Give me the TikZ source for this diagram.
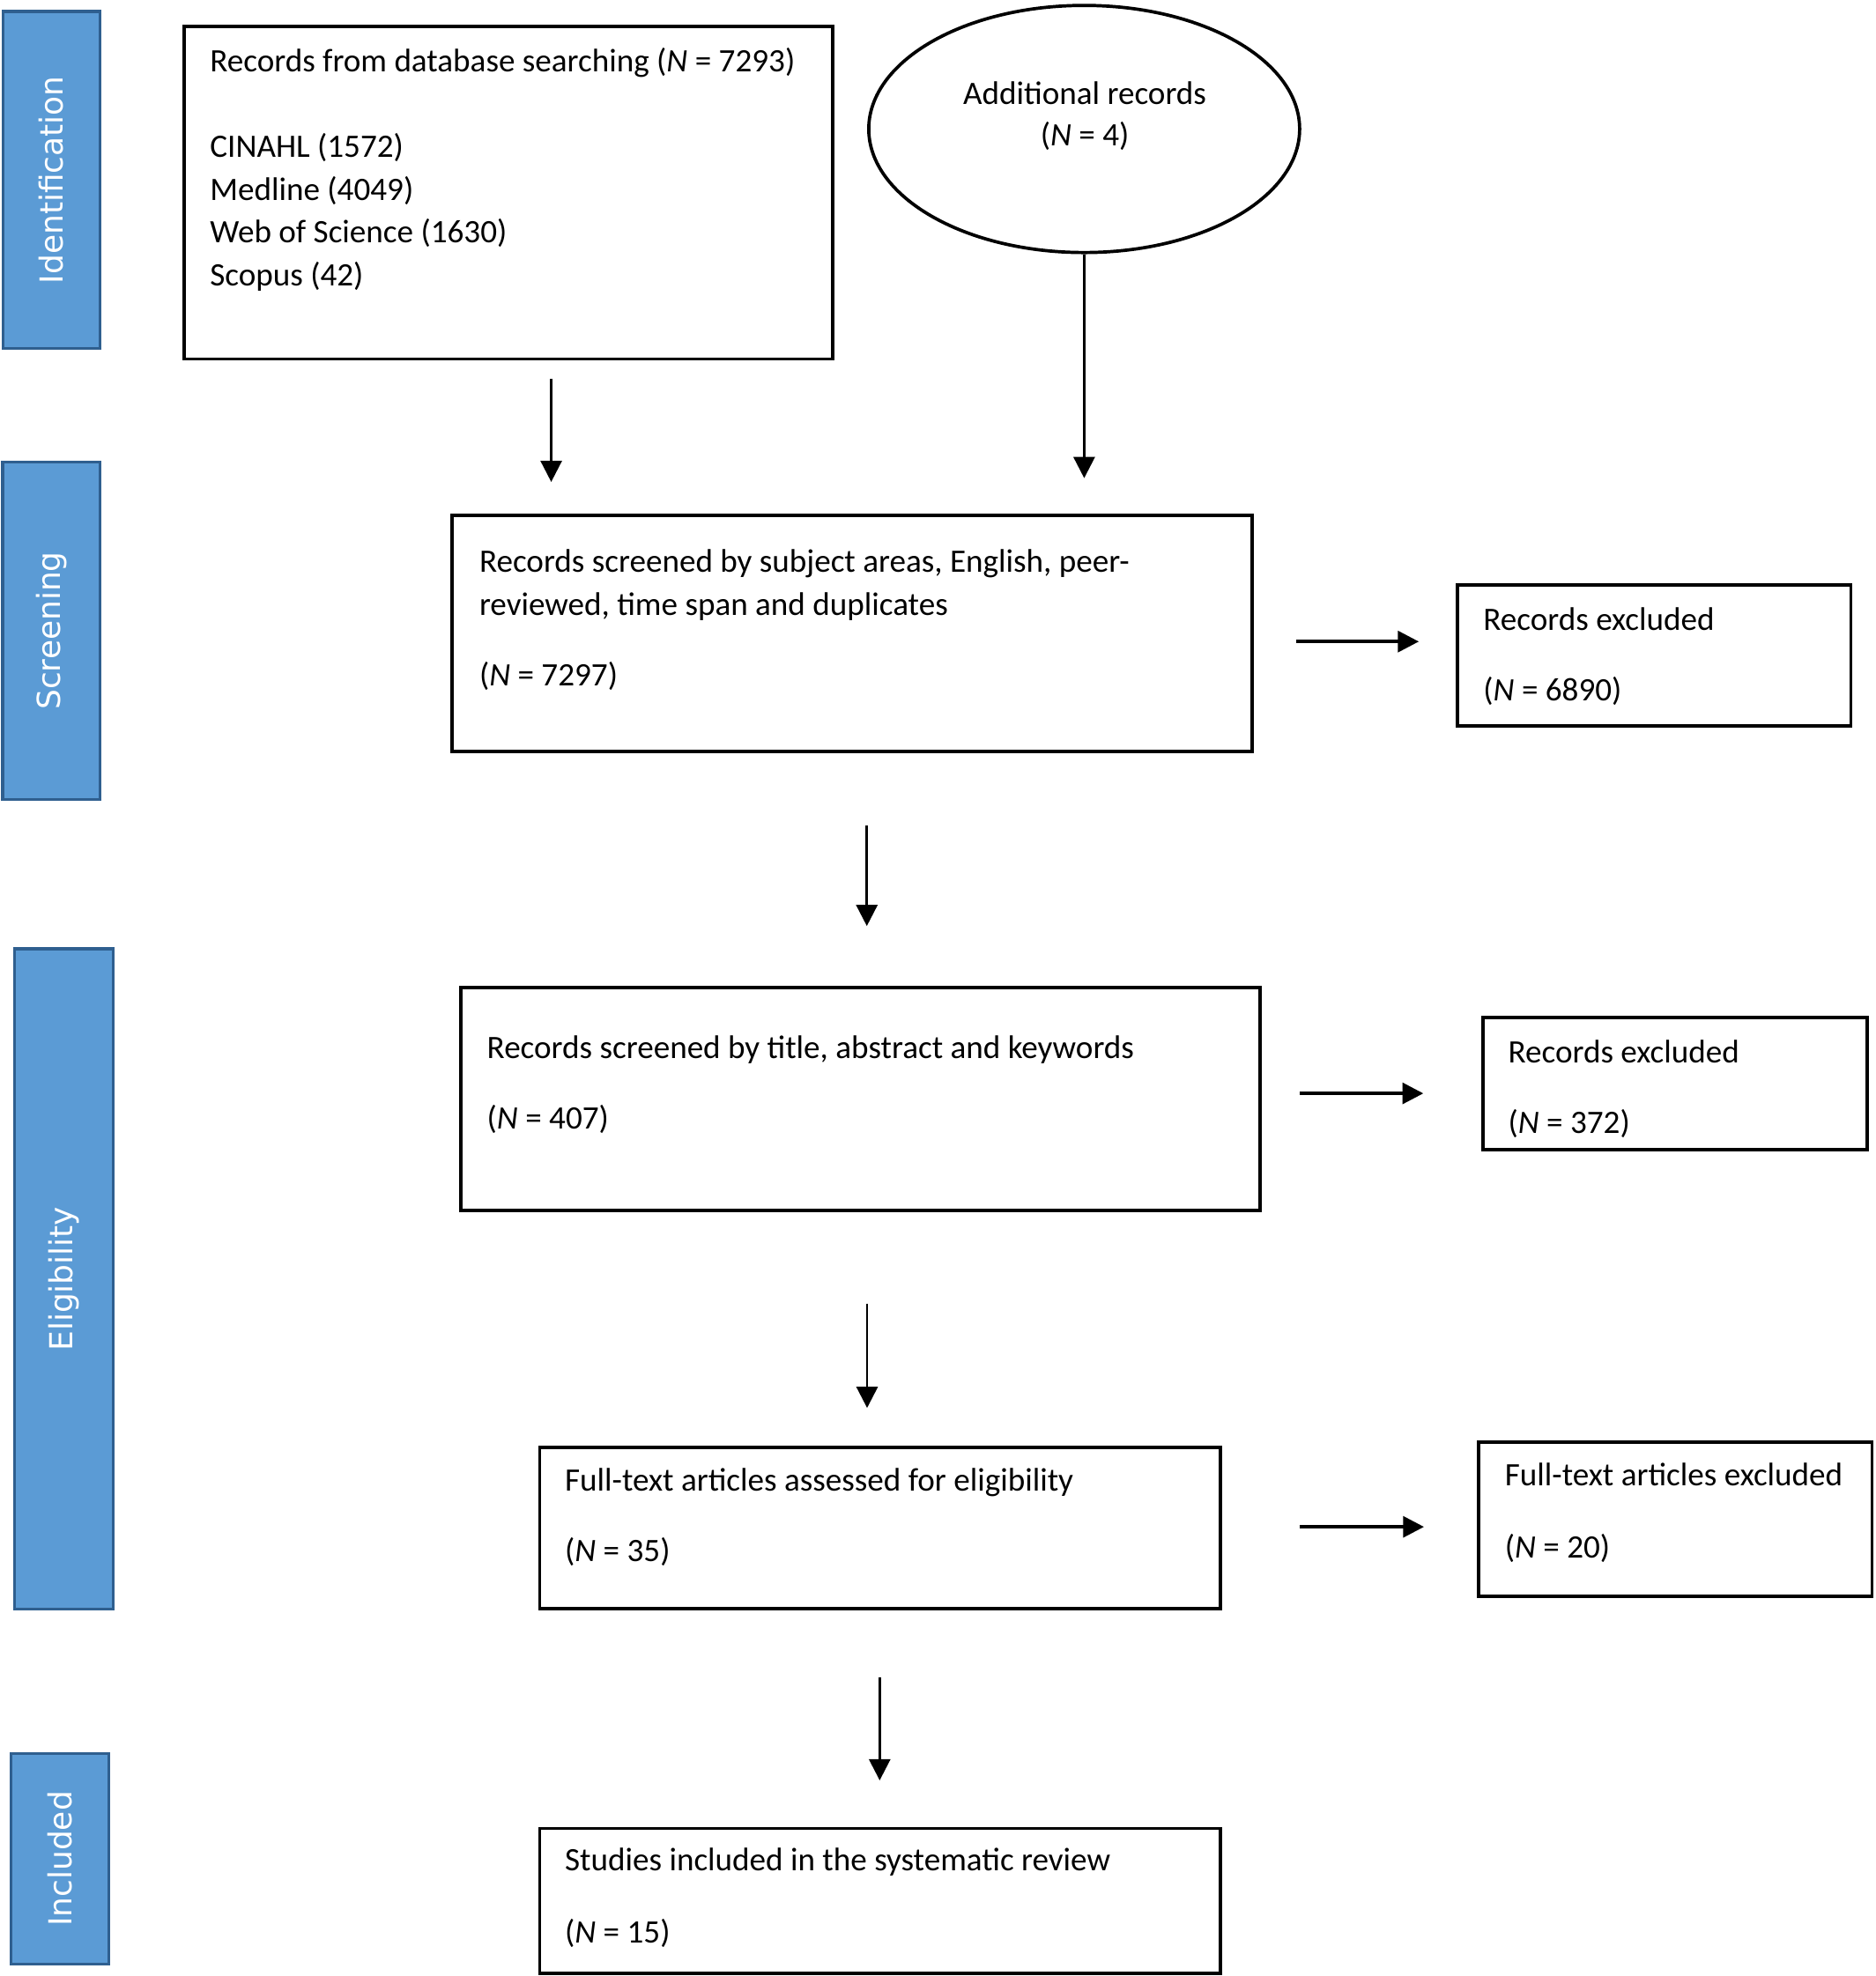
\documentclass[tikz,border=0pt]{standalone}
\usepackage{fontspec}
\setmainfont{Carlito}
\newfontfamily\phasefont{DejaVu Sans}
\usetikzlibrary{arrows.meta,shapes.geometric}
\definecolor{phasefill}{HTML}{5B9BD5}
\definecolor{phaseline}{HTML}{2F5F8F}
\begin{document}
\begin{tikzpicture}[x=0.5pt,y=-0.5pt,
  box/.style={draw=black, line width=1.35pt, inner sep=0pt},
  phase/.style={draw=phaseline, fill=phasefill, line width=1.1pt, rotate=90, inner sep=0pt,
    text=white, font=\phasefont\fontsize{12.6}{15}\selectfont},
  txt/.style={anchor=base west, inner sep=0pt, font=\fontsize{13}{15}\selectfont},
  ctxt/.style={anchor=base, inner sep=0pt, font=\fontsize{13}{15}\selectfont},
  varr/.style={line width=0.95pt, -{Triangle[length=8.4pt,width=8.4pt]}},
  harr/.style={line width=1.35pt, -{Triangle[length=8.3pt,width=8.3pt]}}
]
\useasboundingbox (0,0) rectangle (1490,1570.5);

% phase bars
\node[phase, minimum width=133.9pt, minimum height=38.65pt] (pid) at (40.9,143) {Identification};
\node[phase, minimum width=134.2pt, minimum height=38.75pt] (pscr) at (40.85,501.3) {Screening};
\node[phase, minimum width=262.4pt, minimum height=39.15pt] (pel) at (50.75,1016.5) {Eligibility};
\node[phase, minimum width=83.55pt, minimum height=38.8pt] (pinc) at (47.5,1477.4) {Included};

% boxes
\node[box, minimum width=257.8pt, minimum height=132.1pt] (A) at (403.85,153.2) {};
\node[draw=black, ellipse, line width=1.3pt, inner sep=0pt, minimum width=171.2pt, minimum height=98.2pt] (ell) at (861.5,102.5) {};
\node[box, minimum width=318pt, minimum height=93.8pt] (B) at (677.15,503.55) {};
\node[box, minimum width=156.2pt, minimum height=56pt] (C) at (1314.5,520.65) {};
\node[box, minimum width=317.4pt, minimum height=88.7pt] (D) at (683.75,873.6) {};
\node[box, minimum width=152.7pt, minimum height=52.4pt] (E) at (1331,861.25) {};
\node[box, minimum width=270.4pt, minimum height=64.2pt] (F) at (699.3,1214.5) {};
\node[box, minimum width=156.3pt, minimum height=61.2pt] (G) at (1331.2,1207.5) {};
\node[box, minimum width=270.4pt, minimum height=57.6pt] (H) at (699.3,1510.8) {};

% texts
\node[txt] (a1) at (166.5,57) {Records from database searching (\textit{N} = 7293)};
\node[txt] (a2) at (166.5,125) {CINAHL (1572)};
\node[txt] (a3) at (166.5,159) {Medline (4049)};
\node[txt] (a4) at (166.5,193) {Web of Science (1630)};
\node[txt] (a5) at (166.5,227) {Scopus (42)};

\node[ctxt] (l1) at (862,83) {Additional records};
\node[ctxt] (l2) at (862,116) {(\textit{N} = 4)};

\node[txt] (b1) at (380.5,455) {Records screened by subject areas, English, peer-};
\node[txt] (b2) at (380.5,489) {reviewed, time span and duplicates};
\node[txt] (b3) at (380.5,545) {(\textit{N} = 7297)};

\node[txt] (c1) at (1178.3,501) {Records excluded};
\node[txt] (c2) at (1178.3,557) {(\textit{N} = 6890)};

\node[txt] (d1) at (386.6,841) {Records screened by title, abstract and keywords};
\node[txt] (d2) at (386.6,897) {(\textit{N} = 407)};

\node[txt] (e1t) at (1198,845) {Records excluded};
\node[txt] (e2t) at (1198,901) {(\textit{N} = 372)};

\node[txt] (f1) at (448.5,1185) {Full-text articles assessed for eligibility};
\node[txt] (f2) at (448.5,1241) {(\textit{N} = 35)};

\node[txt] (g1) at (1195.4,1181) {Full-text articles excluded};
\node[txt] (g2) at (1195.4,1238) {(\textit{N} = 20)};

\node[txt] (h1) at (448.5,1487) {Studies included in the systematic review};
\node[txt] (h2) at (448.5,1544) {(\textit{N} = 15)};

% arrow end points
\coordinate (s1) at (438,301);     \coordinate (t1) at (438,383);
\coordinate (t2) at (861.5,380);
\coordinate (s3) at (688.8,656);   \coordinate (t3) at (688.8,736);
\coordinate (s4) at (1030,509.9);  \coordinate (t4) at (1127.4,509.9);
\coordinate (s5) at (689,1036);    \coordinate (t5) at (689,1119);
\coordinate (s6) at (1032.7,869);  \coordinate (t6) at (1131,869);
\coordinate (s7) at (699,1333);    \coordinate (t7) at (699,1415);
\coordinate (s8) at (1032.7,1213.5); \coordinate (t8) at (1131.5,1213.5);

\draw[varr] (s1) -- (t1);
\draw[varr] (ell.south) -- (t2);
\draw[varr] (s3) -- (t3);
\draw[harr] (s4) -- (t4);
\draw[varr] (s5) -- (t5);
\draw[harr] (s6) -- (t6);
\draw[varr] (s7) -- (t7);
\draw[harr] (s8) -- (t8);
\end{tikzpicture}
\end{document}
